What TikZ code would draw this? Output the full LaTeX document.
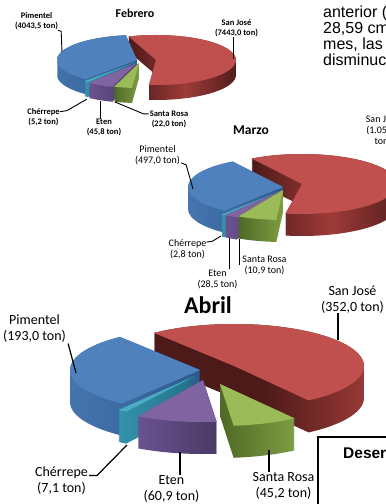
\documentclass[tikz,border=0pt]{standalone}
\usepackage{fontspec}
\setmainfont{Carlito}
\newfontfamily\arial{Liberation Sans}

\definecolor{azul}{HTML}{4F81BD}
\definecolor{azulpared}{HTML}{4676B0}
\definecolor{azuloscuro}{HTML}{2E5A8E}
\definecolor{rojo}{HTML}{C0504D}
\definecolor{rojopared}{HTML}{9E3B38}
\definecolor{rojooscuro}{HTML}{4C1A19}
\definecolor{verde}{HTML}{9BBB59}
\definecolor{verdepared}{HTML}{7E9C42}
\definecolor{verdeoscuro}{HTML}{4F6926}
\definecolor{morado}{HTML}{8064A2}
\definecolor{moradopared}{HTML}{6A5290}
\definecolor{moradooscuro}{HTML}{4A3A66}
\definecolor{celeste}{HTML}{4BACC6}
\definecolor{celestepared}{HTML}{3592AB}
\definecolor{celesteoscuro}{HTML}{23708A}

% one slice of a 3D pie: tip x, tip y, start angle, end angle, top colour, wall shading
\newcommand{\tajada}[6]{%
	\shade[#6] \foreach \prof in {0,...,\pieh} {
		(#1,#2+\prof) -- ({#1+\pierx*cos(#3)},{#2+\prof+\piery*sin(#3)})
		arc[start angle=#3, end angle=#4, x radius=\pierx, y radius=\piery] -- cycle};
	\fill[#5] (#1,#2) -- ({#1+\pierx*cos(#3)},{#2+\piery*sin(#3)})
		arc[start angle=#3, end angle=#4, x radius=\pierx, y radius=\piery] -- cycle;
}

\begin{document}
\begin{tikzpicture}[x=1pt, y=-1pt,
	guia/.style={draw=black, line width=0.9pt},
	etqF/.style={align=center, inner sep=0pt, font=\bfseries\fontsize{8.5}{10}\selectfont},
	etqM/.style={align=center, inner sep=0pt, font=\fontsize{10}{11}\selectfont},
	etqA/.style={align=center, inner sep=0pt, font=\fontsize{14}{16}\selectfont},
	titulo/.style={inner sep=0pt, anchor=base},
	cuerpo/.style={inner sep=0pt, anchor=base west, font=\arial\fontsize{16}{16}\selectfont}]
	% page cut of 386 x 504
	\useasboundingbox (0,0) rectangle (386,504);
	\clip (0,0) rectangle (386,504);
	
	%% Febrero %%
	\def\pierx{80}\def\piery{25}\def\pieh{15}
	\tajada{156}{60}{250}{455}{rojo}{left color=rojooscuro, right color=rojooscuro, middle color=rojopared}
	\tajada{137}{60}{130}{262}{azul}{left color=azulpared, right color=azuloscuro}
	\tajada{136}{62}{127}{130}{celeste}{left color=celestepared, right color=celesteoscuro}
	\tajada{137}{63}{108}{127}{morado}{left color=moradopared, right color=moradooscuro}
	\tajada{139}{63}{95}{108}{verde}{left color=verdeoscuro, right color=verdepared}
	
	\node[titulo, font=\bfseries\fontsize{12}{12}\selectfont] (febrero) at (135,17) {Febrero};
	
	\node[etqF] (pimF) at (36.5,21.5) {Pimentel\\(4043,5 ton)};
	\node[etqF] (sjF) at (236.5,28.5) {San José\\(7443,0 ton)};
	\node[etqF] (cheF) at (43.5,117.5) {Chérrepe\\(5,2 ton)};
	\node[etqF] (etF) at (104,127.5) {Eten\\(45,8 ton)};
	\node[etqF] (srF) at (169,119.5) {Santa Rosa\\(22,0 ton)};
	
	\coordinate (pimFfin) at (62,52);
	\coordinate (sjFfin) at (233,59);
	\coordinate (cheFfin) at (87,99);
	\coordinate (etFfin) at (100,101);
	\coordinate (srFfin) at (115,102);
	
	\draw[guia] (pimF.south east) -- ++(3,1) -- (pimFfin);
	\draw[guia] (sjFfin |- sjF.south) -- (sjFfin);
	\draw[guia] (cheF.north east) ++(0,3) -- ++(7,-1) -- (cheFfin);
	\draw[guia] (etFfin |- etF.north) -- (etFfin);
	\draw[guia] (srF.north west) ++(-1,3) -- ++(-5,0) -- (srFfin);
	
	%% Marzo %%
	\def\pierx{95}\def\piery{30}\def\pieh{22}
	\tajada{302}{184}{238}{460}{rojo}{left color=rojooscuro, right color=rojooscuro, middle color=rojopared}
	\tajada{283}{187}{128}{238}{azul}{left color=azulpared, right color=azuloscuro}
	\tajada{280}{191}{126}{128}{celeste}{left color=celestepared, right color=celesteoscuro}
	\tajada{281}{191}{118}{126}{morado}{left color=moradopared, right color=moradooscuro}
	\tajada{283}{190}{94}{118}{verde}{left color=verdeoscuro, right color=verdepared}
	
	\node[titulo, font=\bfseries\fontsize{13.5}{13.5}\selectfont] (marzo) at (251,134) {Marzo};
	
	\node[etqM] (pimM) at (157.5,155) {Pimentel\\(497,0 ton)};
	\node[etqM] (sjM) at (383,130.5) {San José\\(1.057,3\\ton)};
	\node[etqM] (cheM) at (187.5,249) {Chérrepe\\(2,8 ton)};
	\node[etqM] (etM) at (217.5,279) {Eten\\(28,5 ton)};
	\node[etqM] (srM) at (264.5,265) {Santa Rosa\\(10,9 ton)};
	
	\coordinate (pimMfin) at (193,189);
	\coordinate (cheMfin) at (221,236);
	\coordinate (etMfin) at (229,238);
	\coordinate (srMfin) at (239,239);
	
	\draw[guia] (pimM.south east) ++(1,-2) -- ++(5,2) -- (pimMfin);
	\draw[guia] (cheM.north east) ++(0,3) -- ++(6,-1) -- (cheMfin);
	\draw[guia] (etMfin |- etM.north) -- (etMfin);
	\draw[guia] (srMfin |- srM.west) -- (srMfin);
	
	%% Abril %%
	\def\pierx{130}\def\piery{42}\def\pieh{32}
	\tajada{234}{366}{232}{415}{rojo}{left color=rojooscuro, right color=rojopared, middle color=rojooscuro}
	\tajada{200}{370}{127}{232}{azul}{left color=azulpared, right color=azuloscuro}
	\tajada{195}{376}{122}{126}{celeste}{left color=celestepared, right color=celesteoscuro}
	\tajada{203}{380}{84}{120}{morado}{left color=moradopared, right color=moradooscuro}
	\tajada{220}{384}{55}{84}{verde}{left color=verdeoscuro, right color=verdepared}
	
	\node[titulo, font=\bfseries\fontsize{24}{24}\selectfont] (abril) at (208,313) {Abril};
	
	\node[etqA] (pimA) at (34.5,328.5) {Pimentel\\(193,0 ton)};
	\node[etqA] (sjA) at (352.5,299.5) {San José\\(352,0 ton)};
	\node[etqA] (cheA) at (61.5,480.5) {Chérrepe\\(7,1 ton)};
	\node[etqA] (etA) at (171.5,488.5) {Eten\\(60,9 ton)};
	\node[etqA] (srA) at (283.5,485.5) {Santa Rosa\\(45,2 ton)};
	
	\coordinate (pimAfin) at (76,373);
	\coordinate (sjAfin) at (338,340);
	\coordinate (cheAfin) at (127,445);
	\coordinate (etAfin) at (180,452);
	\coordinate (srAfin) at (269,450);
	
	\draw[guia, line width=1.2pt] (pimA.south east) ++(2,1) -- (pimAfin);
	\draw[guia, line width=1.2pt] (sjAfin |- sjA.south) -- (sjAfin);
	\draw[guia, line width=1.2pt] (cheA.north east) ++(1,9) -- ++(8,0) -- (cheAfin);
	\draw[guia, line width=1.2pt] (etAfin |- etA.north) -- (etAfin);
	\draw[guia, line width=1.2pt] (srAfin |- srA.north) -- (srAfin);
	
	%% text of the page round the charts %%
	\node[cuerpo] (linea1) at (323,17) {anterior (};
	\node[cuerpo] (linea2) at (323,33.3) {28,59 cm};
	\node[cuerpo] (linea3) at (323,49.6) {mes, las};
	\node[cuerpo] (linea4) at (323,65.9) {disminuc};
	
	\draw[line width=1.2pt] (318,520) -- (318,437) -- (400,437);
	\node[cuerpo, font=\arial\bfseries\fontsize{15.5}{16}\selectfont] (deser) at (343,458) {Deser};
	
\end{tikzpicture}
\end{document}
